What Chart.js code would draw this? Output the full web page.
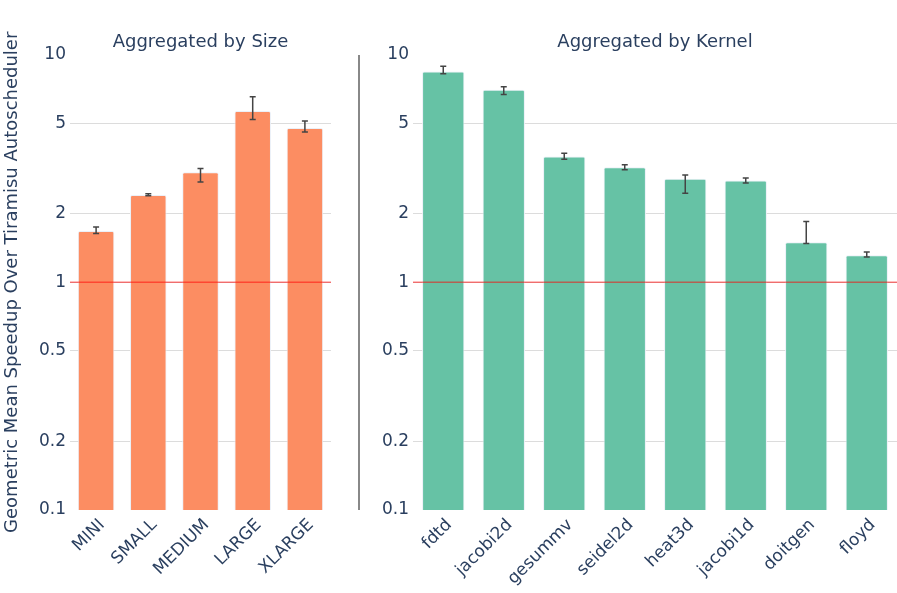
<!DOCTYPE html>
<html>
<head>
<meta charset="utf-8">
<script src="https://cdn.jsdelivr.net/npm/chart.js@4.4.0/dist/chart.umd.min.js"></script>
<style>
  body { margin: 0; background: #fff; width: 897px; height: 593px; position: relative; overflow: hidden; }
  canvas { position: absolute; top: 0; }
  #divider { position: absolute; left: 358px; top: 55px; width: 2px; height: 455px; background: #888; }
</style>
</head>
<body>
<canvas id="size-chart" width="345" height="593" style="left:0"></canvas>
<div id="divider"></div>
<canvas id="kernel-chart" width="537" height="593" style="left:360px"></canvas>
<script>
const sizeLabels = ['MINI', 'SMALL', 'MEDIUM', 'LARGE', 'XLARGE'];
const sizeMeans = [1.68, 2.42, 3.04, 5.65, 4.76];
const sizeLow = [1.64, 2.40, 2.76, 5.19, 4.57];
const sizeHigh = [1.75, 2.45, 3.16, 6.53, 5.11];

const kernelLabels = ['fdtd', 'jacobi2d', 'gesummv', 'seidel2d', 'heat3d', 'jacobi1d', 'doitgen', 'floyd'];
const kernelMeans = [8.42, 7.01, 3.57, 3.20, 2.85, 2.80, 1.50, 1.315];
const kernelLow = [8.23, 6.68, 3.47, 3.12, 2.46, 2.73, 1.48, 1.29];
const kernelHigh = [8.89, 7.22, 3.69, 3.28, 2.96, 2.87, 1.85, 1.36];

const yTicks = [0.1, 0.2, 0.5, 1, 2, 5, 10];

const textColor = '#2a3f5f';
const fontFamily = '"DejaVu Sans", Verdana, sans-serif';

// error bars + red reference line at 1
const errorBars = {
  id: 'errorBars',
  afterDatasetsDraw(chart, args, opts) {
    const ctx = chart.ctx;
    const y = chart.scales.y;
    const area = chart.chartArea;
    ctx.save();
    const y1 = y.getPixelForValue(1);
    ctx.strokeStyle = 'rgba(255, 0, 0, 0.5)';
    ctx.lineWidth = 1.5;
    ctx.beginPath();
    ctx.moveTo(area.left, y1);
    ctx.lineTo(area.right, y1);
    ctx.stroke();

    ctx.strokeStyle = '#444';
    ctx.lineWidth = 1.5;
    chart.getDatasetMeta(0).data.forEach((bar, i) => {
      const top = y.getPixelForValue(opts.high[i]);
      const bottom = y.getPixelForValue(opts.low[i]);
      ctx.beginPath();
      ctx.moveTo(bar.x, top);
      ctx.lineTo(bar.x, bottom);
      ctx.moveTo(bar.x - 3, top);
      ctx.lineTo(bar.x + 3, top);
      ctx.moveTo(bar.x - 3, bottom);
      ctx.lineTo(bar.x + 3, bottom);
      ctx.stroke();
    });
    ctx.restore();
  }
};

function makeChart(canvasId, labels, means, low, high, color, title, yWidth, padRight, yTitle) {
  return new Chart(document.getElementById(canvasId), {
    type: 'bar',
    data: {
      labels: labels,
      datasets: [{
        data: means,
        backgroundColor: color,
        borderColor: 'rgba(235, 240, 248, 1)',
        borderWidth: 1,
        borderRadius: 2,
        borderSkipped: 'bottom',
        barPercentage: 0.7,
        categoryPercentage: 1
      }]
    },
    options: {
      responsive: false,
      animation: false,
      layout: { padding: { left: 0, right: padRight, top: 0, bottom: 0 } },
      plugins: {
        legend: { display: false },
        tooltip: { enabled: false },
        title: {
          display: true,
          fullSize: false,
          text: title,
          color: textColor,
          font: { family: fontFamily, size: 18, weight: 'normal' },
          padding: { top: 31.5, bottom: 1.5 }
        },
        errorBars: { low: low, high: high }
      },
      scales: {
        x: {
          grid: { display: false },
          border: { display: false },
          ticks: {
            color: textColor,
            font: { family: fontFamily, size: 17 },
            maxRotation: 45,
            minRotation: 45,
            padding: -3,
            labelOffset: 6
          },
          afterFit(scale) { scale.height = 83; }
        },
        y: {
          type: 'logarithmic',
          min: 0.1,
          max: 10,
          border: { display: false },
          grid: {
            drawTicks: false,
            lineWidth: 1,
            color: (c) => (c.tick && (c.tick.value === 0.1 || c.tick.value === 10)) ? 'rgba(0,0,0,0)' : '#dcdcdc'
          },
          afterBuildTicks(scale) { scale.ticks = yTicks.map(v => ({ value: v })); },
          ticks: {
            color: textColor,
            font: { family: fontFamily, size: 17 },
            padding: 4,
            callback: (v) => String(v)
          },
          title: {
            display: yTitle !== '',
            text: yTitle,
            color: textColor,
            font: { family: fontFamily, size: 18 },
            padding: { top: 2, bottom: 0 }
          },
          afterFit(scale) { scale.width = yWidth; }
        }
      }
    },
    plugins: [errorBars]
  });
}

makeChart('size-chart', sizeLabels, sizeMeans, sizeLow, sizeHigh, '#fc8d62',
  'Aggregated by Size', 70, 14, 'Geometric Mean Speedup Over Tiramisu Autoscheduler');
makeChart('kernel-chart', kernelLabels, kernelMeans, kernelLow, kernelHigh, '#66c2a5',
  'Aggregated by Kernel', 53, 0, '');
</script>
</body>
</html>
